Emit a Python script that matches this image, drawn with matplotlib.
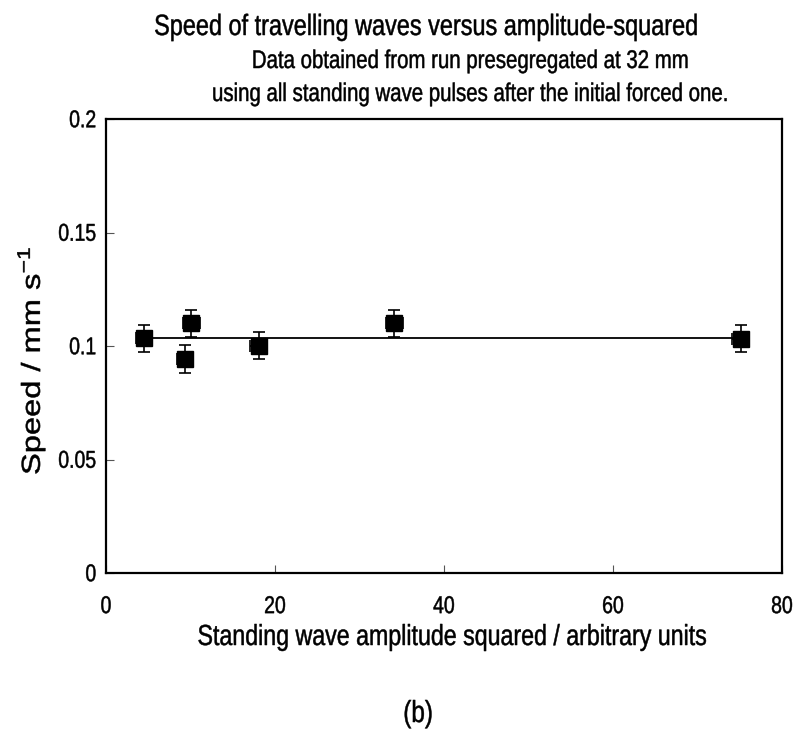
import matplotlib
matplotlib.use("Agg")
import matplotlib.pyplot as plt
from matplotlib.ticker import FixedLocator, FixedFormatter
from matplotlib.patheffects import AbstractPathEffect
from matplotlib.transforms import Affine2D

amp_sq = [4.5, 9.35, 10.1, 18.1, 34.1, 75.1]
speed = [0.1034, 0.0943, 0.1100, 0.1001, 0.1100, 0.1032]
speed_err = [0.006, 0.006, 0.006, 0.006, 0.006, 0.006]
amp_err = [1.0, 1.0, 1.0, 1.0, 1.0, 1.0]
fit_x = [4.5, 75.1]
fit_y = [0.1035, 0.1035]
xticks = [0, 20, 40, 60, 80]
yticks = [0, 0.05, 0.1, 0.15, 0.2]
ytick_labels = ["0", "0.05", "0.1", "0.15", "0.2"]

plt.rcParams['font.family'] = ["Liberation Sans", "DejaVu Sans"]


class Stretch(AbstractPathEffect):
    """Stretch glyphs in text-local coordinates (text stays a Text artist).
    sx, sy: scale factors; cy: vertical anchor in path units (em = 100)."""
    def __init__(self, sx=1.0, sy=1.0, cy=0.0, lw=0.35):
        super().__init__()
        self.sx, self.sy, self.cy, self.lw = sx, sy, cy, lw

    def draw_path(self, renderer, gc, tpath, affine, rgbFace=None):
        tr = (Affine2D().translate(0, -self.cy).scale(self.sx, self.sy)
              .translate(0, self.cy) + affine)
        gc0 = renderer.new_gc()
        gc0.copy_properties(gc)
        gc0.set_linewidth(self.lw)
        if rgbFace is not None:
            gc0.set_foreground(rgbFace)
        renderer.draw_path(gc0, tpath, tr, rgbFace)
        gc0.restore()


K = 1.25

W, H = 797, 732
fig = plt.figure(figsize=(W / 100, H / 100), dpi=100)
ax = fig.add_axes([106 / W, 1 - 573 / H, (782 - 106) / W, (573 - 119) / H])

ax.plot(fit_x, fit_y, color="black", lw=1.3, zorder=2)
ax.errorbar(amp_sq, speed, yerr=speed_err, xerr=amp_err, fmt="s", color="black",
            ms=11, elinewidth=1.2, capsize=4, capthick=1.2, zorder=3)

ax.set_xlim(0, 80)
ax.set_ylim(0, 0.2)
ax.xaxis.set_major_locator(FixedLocator(xticks))
ax.yaxis.set_major_locator(FixedLocator(yticks))
ax.yaxis.set_major_formatter(FixedFormatter(ytick_labels))
ax.tick_params(direction="in", length=6, width=0.8, color="#555555",
               labelsize=14, top=False, right=False)
ax.tick_params(axis="x", pad=17)
ax.tick_params(axis="y", pad=7)
for s in ax.spines.values():
    s.set_linewidth(1.6)
for lbl in ax.get_xticklabels():
    lbl.set_path_effects([Stretch(1, K, cy=71.6)])
for lbl in ax.get_yticklabels():
    lbl.set_path_effects([Stretch(1, K, cy=35.8)])


def ftext(px, py, s, size, pe, **kw):
    t = fig.text(px / W, 1 - py / H, s, fontsize=size, **kw)
    t.set_path_effects([pe])
    return t


ftext(427, 35, "Speed of travelling waves versus amplitude-squared", 16.9,
      Stretch(1, K), ha="center", va="baseline")
ftext(470, 68, "Data obtained from run presegregated at 32 mm", 14.7,
      Stretch(1, K), ha="center", va="baseline")
ftext(470, 101, "using all standing wave pulses after the initial forced one.", 14.7,
      Stretch(1, K), ha="center", va="baseline")
ftext(451, 645, "Standing wave amplitude squared / arbitrary units", 16.7,
      Stretch(1, K), ha="center", va="baseline")
ftext(40, 475, "Speed / mm s$^{\\mathregular{-1}}$", 18.8,
      Stretch(K, 1), ha="left", va="baseline", rotation=90, rotation_mode="anchor")
ftext(418, 722, "(b)", 17.5, Stretch(1, K), ha="center", va="baseline")

fig.savefig("out.png", dpi=100)
